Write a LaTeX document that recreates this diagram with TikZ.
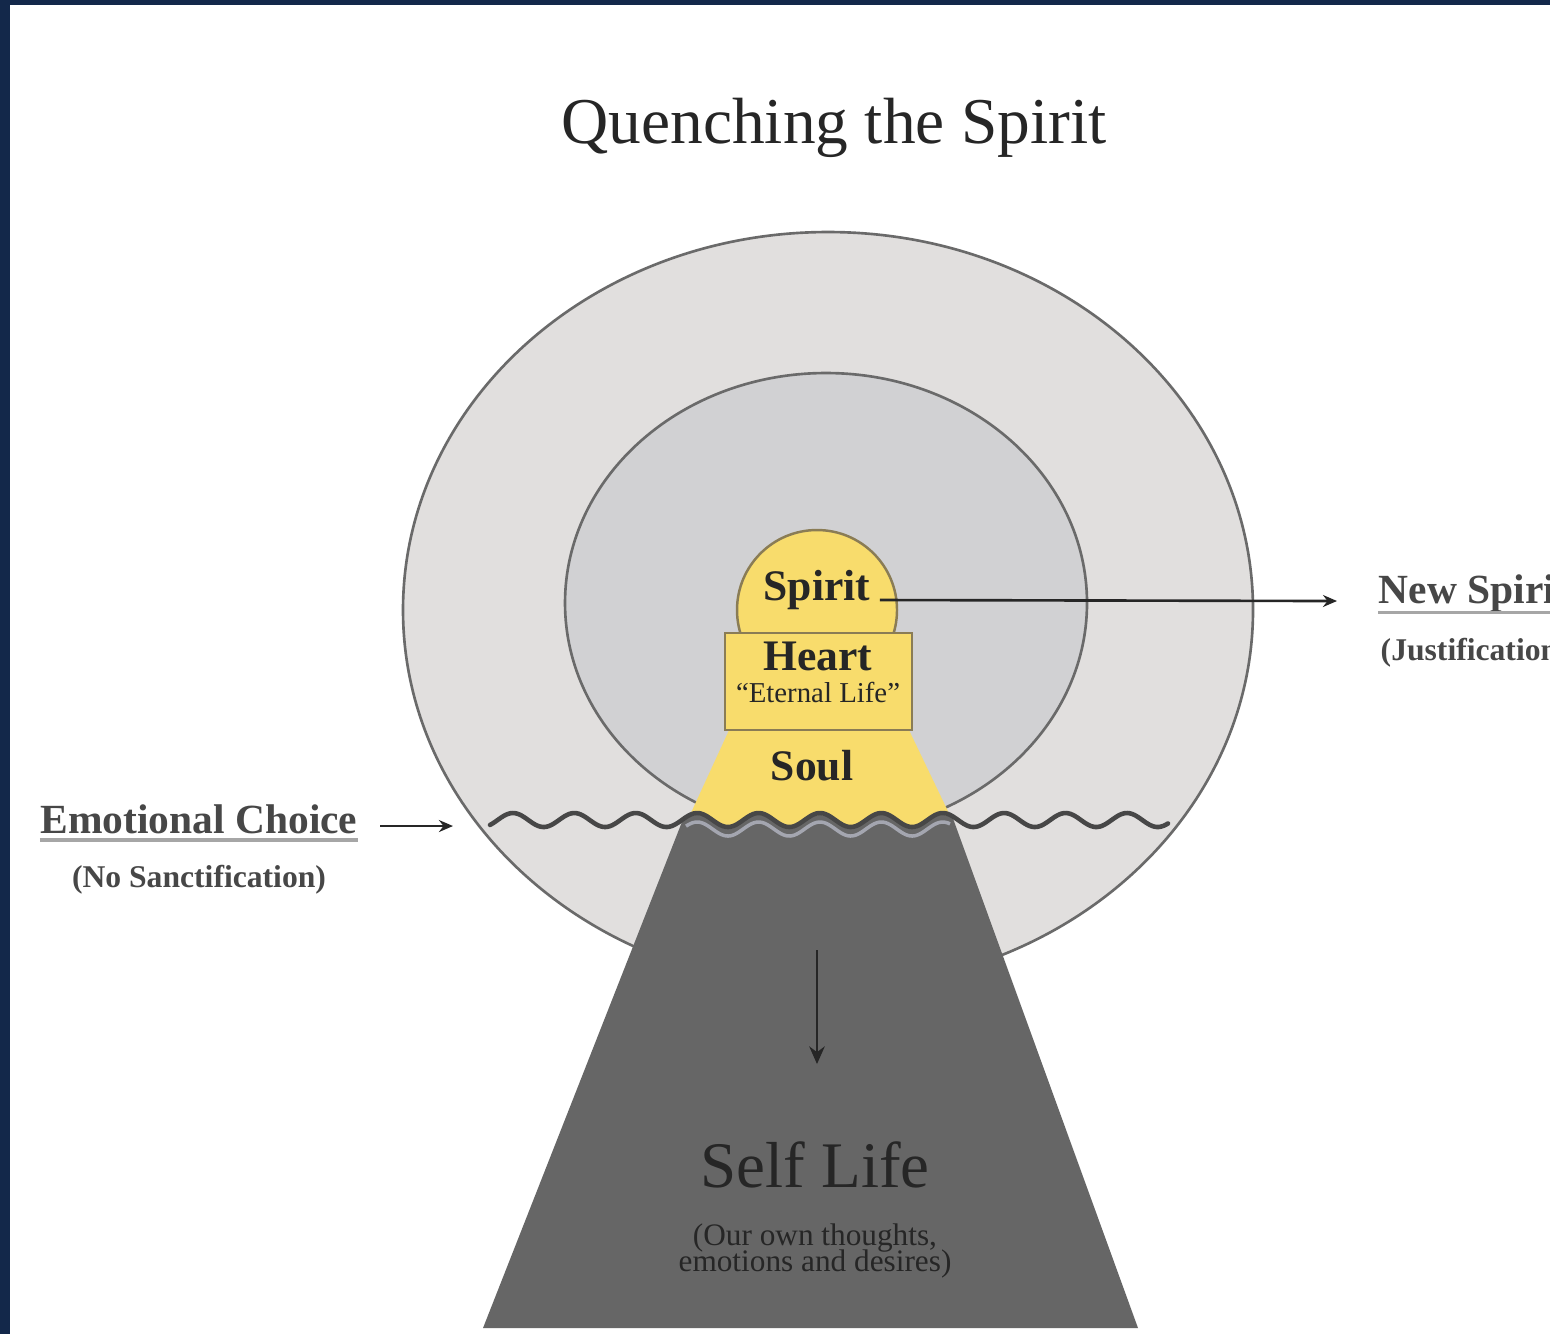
\documentclass[tikz,border=0pt]{standalone}
\usepackage{fontspec}
\setmainfont{Liberation Serif}
\usetikzlibrary{positioning,arrows.meta}

\definecolor{navy}{HTML}{13284A}
\definecolor{outergray}{HTML}{E1DFDE}
\definecolor{innergray}{HTML}{D1D1D3}
\definecolor{rimgray}{HTML}{6A6A6A}
\definecolor{goldfill}{HTML}{F8DC6C}
\definecolor{goldrim}{HTML}{8A7C55}
\definecolor{selfgray}{HTML}{666666}
\definecolor{wavegray}{HTML}{474747}
\definecolor{sheengray}{HTML}{A4A6B0}
\definecolor{inkgray}{HTML}{262626}

\tikzset{
  rim/.style={draw=rimgray, line width=0.75pt},
  goldpart/.style={draw=goldrim, line width=0.7pt, fill=goldfill},
  partname/.style={font=\bfseries\fontsize{12.4}{14}\selectfont, text=inkgray, inner sep=0pt, anchor=base},
  smallnote/.style={font=\fontsize{8.2}{9}\selectfont, text=inkgray, inner sep=0pt, anchor=base},
  sidetitle/.style={font=\bfseries\fontsize{11.8}{13}\selectfont, text=inkgray!85, inner sep=0pt, anchor=base},
  sidenote/.style={font=\bfseries\fontsize{9}{10}\selectfont, text=inkgray!85, inner sep=0pt, anchor=base},
  underline/.style={draw=gray!70, line width=0.9pt},
  pointer/.style={draw=black!85, line width=0.75pt, -{Stealth[length=4pt, width=3.4pt]}},
}

\begin{document}
\begin{tikzpicture}[x=0.1mm, y=-0.1mm]
  \useasboundingbox (0,0) rectangle (1550,1334);
  \clip (0,0) rectangle (1550,1334);

  % frame
  \fill[navy] (0,0) rectangle (1550,1334);
  \fill[white] (10,5) rectangle (1550,1334);

  % title
  \node[font=\fontsize{18.6}{20}\selectfont, text=inkgray, inner sep=0pt, anchor=base] (title) at (834,143) {Quenching the Spirit};

  % rings
  \draw[rim, fill=outergray] (828,610) ellipse [x radius=4.25cm, y radius=3.78cm];
  \draw[rim, fill=innergray] (826,603) ellipse [x radius=2.61cm, y radius=2.30cm];

  % spirit, heart and soul
  \draw[goldpart] (817,610) circle [radius=0.8cm];
  \fill[goldfill] (730,728) -- (908,728) -- (956,828) -- (684,828) -- cycle;
  \node[goldpart, minimum width=1.87cm, minimum height=0.97cm, inner sep=0pt] (heartbox) at (818.5,681.5) {};
  \node[partname] (spirit) at (817,600) {Spirit};
  \node[partname] (heart) at (818,670) {Heart};
  \node[smallnote] (eternal) at (818,702) {``Eternal Life''};
  \node[partname] (soul) at (812,780) {Soul};

  % self life block with wavy top (one wave = 61.4 units)
  \fill[selfgray] plot[domain=682:953, samples=120] (\x, {822-7*sin(5.8632*(\x-497.6))})
    -- (1138,1328) -- (483,1328) -- cycle;
  \draw[sheengray, line width=1pt] plot[domain=686:950, samples=120] (\x, {829-7*sin(5.8632*(\x-497.6))});
  \draw[wavegray, line width=1.3pt, line cap=round] plot[domain=490:1168, samples=300] (\x, {820-7*sin(5.8632*(\x-497.6))});

  \node[font=\fontsize{18.5}{20}\selectfont, text=black!85, inner sep=0pt, anchor=base] (self) at (815,1187) {Self Life};
  \node[font=\fontsize{8.9}{9.4}\selectfont, text=black!85, inner sep=0pt, align=center, anchor=base] (selfnote) at (815,1271) {(Our own thoughts,\\[-2pt]emotions and desires)};

  \coordinate (sinktop) at (817,950);
  \coordinate (sinkend) at (817,1064);
  \draw[pointer, -{Stealth[length=5pt, width=4.4pt]}] (sinktop) -- (sinkend);

  % side labels
  \node[sidetitle] (emo) at (199,833) {Emotional Choice};
  \node[sidenote] (emonote) at (199,887) {(No Sanctification)};
  \draw[underline] ([yshift=-2pt]emo.base west) -- ([yshift=-2pt]emo.base east);
  \coordinate (emotail) at (380,826);
  \coordinate (emotip) at (453,826);
  \draw[pointer] (emotail) -- (emotip);

  \node[sidetitle, anchor=base west] (newspirit) at (1378,603) {New Spirit};
  \node[sidenote, anchor=base west] (newnote) at (1380,660) {(Justification)};
  \draw[underline] ([yshift=-2.8pt]newspirit.base west) -- ([yshift=-2.8pt]newspirit.base east);
  \coordinate (spirittip) at (1337,601);
  \draw[pointer] ([xshift=2.5pt]spirit.base east) -- (spirittip);
\end{tikzpicture}
\end{document}
